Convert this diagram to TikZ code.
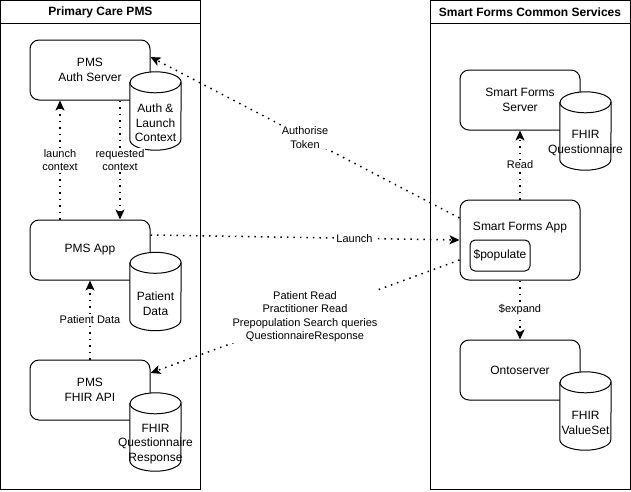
\documentclass[tikz,border=0pt]{standalone}
\usepackage{fontspec}
\setmainfont{Liberation Sans}
\usetikzlibrary{arrows.meta, positioning}

% cylinder drawn round a named node
\newcommand\dbshape[1]{%
  \filldraw[fill=white, line width=1pt] ([yshift=-10.5pt]#1.north west) -- ([yshift=10.5pt]#1.south west)
    arc[start angle=180, end angle=360, x radius=25.5pt, y radius=10.5pt]
    -- ([yshift=-10.5pt]#1.north east)
    arc[start angle=0, end angle=180, x radius=25.5pt, y radius=10.5pt] -- cycle;
  \draw[line width=1pt] ([yshift=-10.5pt]#1.north west)
    arc[start angle=180, end angle=360, x radius=25.5pt, y radius=10.5pt];
}

\begin{document}
\begin{tikzpicture}[x=1pt, y=-1pt,
    font=\fontsize{12}{14.5}\selectfont,
    container/.style={draw, line width=1pt, minimum width=200pt, minimum height=489pt, inner sep=0pt},
    title/.style={draw, line width=1pt, minimum width=200pt, minimum height=23pt, font=\fontsize{12}{14.5}\selectfont\bfseries},
    box/.style={draw, line width=1pt, rounded corners=9pt, fill=white, minimum width=120pt, minimum height=60pt, align=center},
    db/.style={minimum width=51pt, minimum height=78pt, inner sep=0pt},
    dbtext/.style={anchor=center, yshift=-12pt, align=center},
    flow/.style={line width=1.5pt, dash pattern=on 1.5pt off 5pt, -{Stealth[length=10pt, width=9pt, inset=2.5pt]}},
    elabel/.style={fill=white, inner sep=1pt, align=center, font=\fontsize{11}{13.5}\selectfont}]
    \useasboundingbox (0,0) rectangle (631,491);
    % Containers
    \node[container] (pms) at (100.5,245) {};
    \node[title] (pmstitle) at (100.5,12) {Primary Care PMS};
    \node[container] (sfcs) at (530,245) {};
    \node[title] (sfcstitle) at (530,12) {Smart Forms Common Services};
    % Primary Care PMS
    \node[box] (auth) at (90,70) {PMS\\Auth Server};
    \node[db] (authdb) at (155.5,111) {};
    \dbshape{authdb}
    \node[dbtext] (authdbtext) at (authdb.center) {Auth \&\\Launch\\Context};
    \node[box] (pmsapp) at (90,250) {PMS App};
    \node[db] (patdb) at (155.5,291.5) {};
    \dbshape{patdb}
    \node[dbtext] (patdbtext) at (patdb.center) {Patient\\Data};
    \node[box] (fhirapi) at (90,390) {PMS\\FHIR API};
    \node[db] (qrdb) at (155.5,432) {};
    \dbshape{qrdb}
    \node[dbtext] (qrdbtext) at (qrdb.center) {FHIR\\Questionnaire\\Response};
    % Smart Forms Common Services
    \node[box] (sfserver) at (520,100) {Smart Forms\\Server};
    \node[db] (qdb) at (585.5,131) {};
    \dbshape{qdb}
    \node[dbtext] (qdbtext) at (qdb.center) {FHIR\\Questionnaire};
    \node[box, minimum height=80pt, label={[anchor=center, yshift=-28pt]north:Smart Forms App}] (sfapp) at (520,240) {};
    \node[draw, line width=1pt, rounded corners=5pt, minimum width=60pt, minimum height=31pt] (populate) at (500,255.5) {\$populate};
    \node[box] (onto) at (520,370) {Ontoserver};
    \node[db] (vsdb) at (585.5,411) {};
    \dbshape{vsdb}
    \node[dbtext] (vsdbtext) at (vsdb.center) {FHIR\\ValueSet};
    % Flows
    \draw[flow] ([xshift=-30pt]pmsapp.north) -- node[elabel] {launch\\context} ([xshift=-30pt]auth.south);
    \draw[flow] ([xshift=30pt]auth.south) -- node[elabel] {requested\\context} ([xshift=30pt]pmsapp.north);
    \draw[flow] (fhirapi.north) -- node[elabel] {Patient Data} (pmsapp.south);
    \draw[flow] ([yshift=22pt]sfapp.west) -- node[elabel] {Authorise\\Token} ([yshift=13pt]auth.east);
    \draw[flow] ([yshift=15pt]pmsapp.east) -- node[elabel, pos=0.66] {Launch} (sfapp.west);
    \draw[flow] ([yshift=-20pt]sfapp.west) -- node[elabel] {Patient Read\\Practitioner Read\\Prepopulation Search queries\\QuestionnaireResponse} ([yshift=17pt]fhirapi.east);
    \draw[flow] (sfapp.north) -- node[elabel] {Read} (sfserver.south);
    \draw[flow] (sfapp.south) -- node[elabel] {\$expand} (onto.north);
\end{tikzpicture}
\end{document}
